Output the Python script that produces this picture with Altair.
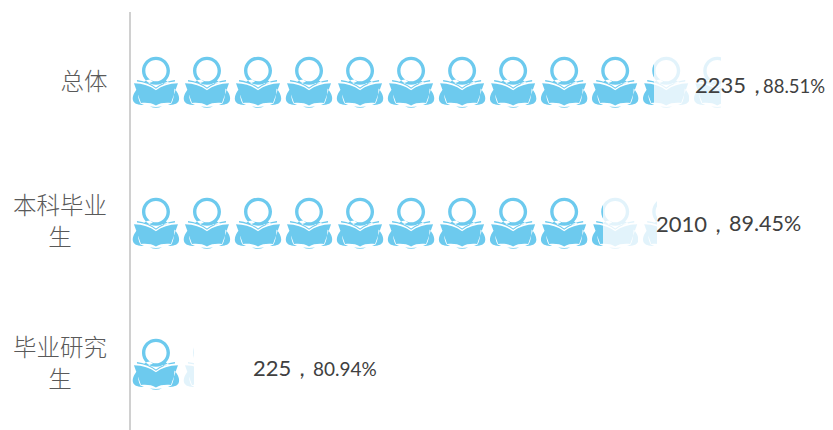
import math
import altair as alt
import pandas as pd

# --- data ---
CATEGORIES = ["总体", "本科毕业生", "毕业研究生"]
WRAPPED = ["总体", "本科毕业\n生", "毕业研究\n生"]
COUNT_TEXT = ["2235，", "2010，", "225，"]
PCT_TEXT = ["88.51%", "89.45%", "80.94%"]
DARK_END = [2235, 2017, 210]     # length of the saturated part of each row
PALE_END = [2525, 2249, 262]     # length of the whole pictogram row
UNITS_PER_ICON = 219
ICON_UNITS = 197

# --- styling / layout ---
DARK = "#6DCAEE"
PALE = "#E2F3FB"
TEXT = "#404040"
CAT_TEXT = "#595959"
PX_PER_UNIT = 0.233
W, H = 817, 422
ZERO_PX = 125
X_DOMAIN = [-ZERO_PX / PX_PER_UNIT, (W - ZERO_PX) / PX_PER_UNIT]
R = 25.0
K = 0.5523


def P(x, y):
    return f"{x / R:.4f},{y / R:.4f}"


def circle(cx, cy, r, clockwise):
    """A closed circle as four cubic curves, in either winding direction."""
    s = 1 if clockwise else -1
    c = K * r
    return (
        f"M{P(cx - r, cy)}"
        f"C{P(cx - r, cy - s * c)} {P(cx - c, cy - s * r)} {P(cx, cy - s * r)}"
        f"C{P(cx + c, cy - s * r)} {P(cx + r, cy - s * c)} {P(cx + r, cy)}"
        f"C{P(cx + r, cy + s * c)} {P(cx + c, cy + s * r)} {P(cx, cy + s * r)}"
        f"C{P(cx - c, cy + s * r)} {P(cx - r, cy + s * c)} {P(cx - r, cy)}Z"
    )


ICON = "".join([
    circle(0, -11.8, 14.0, True),
    circle(0, -11.8, 10.6, False),
    # collar joining the head ring to the shoulders
    f"M{P(-9, -2.5)}L{P(-13, 0)}L{P(-8.5, 1)}L{P(-3, -0.8)}L{P(-6, -3)}Z",
    f"M{P(9, -2.5)}L{P(13, 0)}L{P(8.5, 1)}L{P(3, -0.8)}L{P(6, -3)}Z",
    # upper page edges
    f"M{P(0, 5)}C{P(-5, 1)} {P(-12, -1.5)} {P(-19, -2.5)}L{P(-19, -1)}C{P(-12, -0.3)} {P(-5, 2.2)} {P(0, 6.2)}"
    f"C{P(5, 2.2)} {P(12, -0.3)} {P(19, -1)}L{P(19, -2.5)}C{P(12, -1.5)} {P(5, 1)} {P(0, 5)}Z",
    # open book
    f"M{P(0, 7.8)}C{P(-6, 3.5)} {P(-13, 1)} {P(-22, 0.8)}L{P(-15, 20.5)}C{P(-9, 20)} {P(-4, 20.5)} {P(0, 23)}"
    f"C{P(4, 20.5)} {P(9, 20)} {P(15, 20.5)}L{P(22, 0.8)}C{P(13, 1)} {P(6, 3.5)} {P(0, 7.8)}Z",
    # arms
    f"M{P(-18.5, 6)}C{P(-22, 10)} {P(-24.5, 15)} {P(-22.5, 19)}C{P(-21, 21.5)} {P(-18, 22.3)} {P(-12, 22.5)}"
    f"L{P(-15.5, 21)}C{P(-18, 16)} {P(-18, 12)} {P(-18.5, 6)}Z",
    f"M{P(18.5, 6)}C{P(22, 10)} {P(24.5, 15)} {P(22.5, 19)}C{P(21, 21.5)} {P(18, 22.3)} {P(12, 22.5)}"
    f"L{P(15.5, 21)}C{P(18, 16)} {P(18, 12)} {P(18.5, 6)}Z",
    # bottom spine
    f"M{P(-6, 24)}Q{P(0, 26.5)} {P(6, 24)}Q{P(0, 24.8)} {P(-6, 24)}Z",
])

y_enc = alt.Y("cat:N", axis=None,
              scale=alt.Scale(type="point", domain=CATEGORIES, range=[4, 427], padding=0.5))
x_scale = alt.Scale(domain=X_DOMAIN, nice=False, zero=False)

full_dark, full_pale, partial = [], [], []
for cat, d_end, p_end in zip(CATEGORIES, DARK_END, PALE_END):
    for i in range(math.ceil(p_end / UNITS_PER_ICON)):
        left = i * UNITS_PER_ICON
        right = left + ICON_UNITS
        row = {"cat": cat, "cx": left + ICON_UNITS / 2}
        if right <= d_end:
            full_dark.append(row)
        elif left >= d_end and right <= p_end:
            full_pale.append(row)
        else:
            a = min(max((d_end - left) / ICON_UNITS, 0), 1)
            b = min(max((p_end - left) / ICON_UNITS, 0), 1)
            partial.append((row, a, b))


def icons(rows, fill):
    return alt.Chart(pd.DataFrame(rows)).mark_point(
        shape=ICON, filled=True, fill=fill, opacity=1, strokeWidth=0, size=(2 * R) ** 2
    ).encode(x=alt.X("cx:Q", axis=None, scale=x_scale), y=y_enc)


layers = [
    alt.Chart(pd.DataFrame({"a": [0]})).mark_rule(color="#D0D0D0", strokeWidth=2).encode(
        x=alt.value(122), y=alt.value(4), y2=alt.value(422)),
    icons(full_dark, DARK),
    icons(full_pale, PALE),
]
for row, a, b in partial:
    grad = alt.LinearGradient(
        gradient="linear", x1=0, x2=1, y1=0, y2=0,
        stops=[alt.GradientStop(offset=0, color=DARK if a > 0 else PALE),
               alt.GradientStop(offset=a, color=DARK if a > 0 else PALE),
               alt.GradientStop(offset=a, color=PALE),
               alt.GradientStop(offset=b, color=PALE),
               alt.GradientStop(offset=b, color="#FFFFFF"),
               alt.GradientStop(offset=1, color="#FFFFFF")])
    layers.append(icons([row], grad))

labels = pd.DataFrame({"cat": CATEGORIES, "wrapped": WRAPPED, "count": COUNT_TEXT, "pct": PCT_TEXT})
CJK = "Noto Sans CJK SC"
NUM = "Lato"


def text_layer(i, field, px, size, color, font, dy=0, align="left", weight=400):
    return alt.Chart(labels.iloc[[i]]).mark_text(
        align=align, baseline="middle", fontSize=size, color=color, font=font,
        fontWeight=weight, lineBreak="\n", lineHeight=32, dy=dy
    ).encode(x=alt.value(px), y=y_enc, text=alt.Text(f"{field}:N"))


layers += [
    text_layer(0, "wrapped", 76, 23.5, CAT_TEXT, CJK, 0, "center", 300),
    text_layer(1, "wrapped", 52, 23.5, CAT_TEXT, CJK, -17, "center", 300),
    text_layer(2, "wrapped", 52, 23.5, CAT_TEXT, CJK, -16, "center", 300),
    text_layer(0, "count", 687, 22, TEXT, NUM, 3),
    text_layer(0, "pct", 755, 18.5, TEXT, NUM, 4),
    text_layer(1, "count", 648, 22, TEXT, NUM, 1),
    text_layer(1, "pct", 721, 21.5, TEXT, NUM, 1),
    text_layer(2, "count", 245, 22, TEXT, NUM, 4),
    text_layer(2, "pct", 305, 19, TEXT, NUM, 5),
]

chart = alt.layer(*layers).properties(
    width=W, height=H, padding=0,
    autosize=alt.AutoSizeParams(type="none"),
    background="white",
).configure_view(stroke=None)

chart.save("out.html", embed_options={"renderer": "svg", "actions": False})
